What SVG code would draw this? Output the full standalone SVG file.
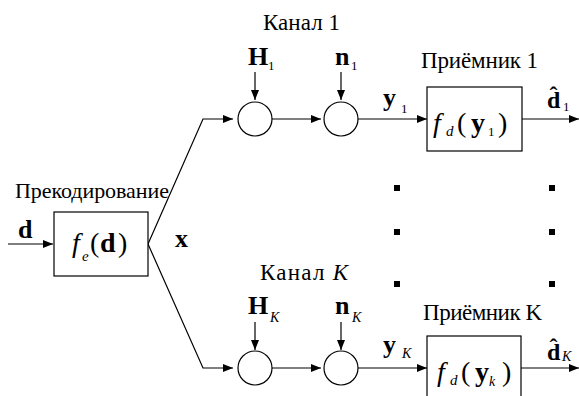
<svg xmlns="http://www.w3.org/2000/svg" width="579" height="396" viewBox="0 0 579 396">
<style>
text{font-family:"Liberation Serif","Times New Roman",serif;fill:#000}
.t{font-size:23px}
.m{font-size:28px}
.b{font-weight:bold}
.i{font-style:italic}
.lab{font-size:26px;font-weight:bold}
.s{font-size:13px}
.box{fill:#fff;stroke:#000;stroke-width:1.2}
.sum{fill:#fff;stroke:#000;stroke-width:1.2}
.c{fill:none;stroke:#000;stroke-width:1.2;marker-end:url(#ah)}
.dot{fill:#000}
</style>
<defs>
<marker id="ah" markerWidth="10" markerHeight="8" refX="10" refY="4" orient="auto" markerUnits="userSpaceOnUse">
<path d="M0,0 L10,4 L0,8 Z" fill="#000"/>
</marker>
</defs>
<g id="connectors">
<line class="c" x1="8" y1="244" x2="53" y2="244"/>
<polyline class="c" points="148,244 203,119 233,119"/>
<polyline class="c" points="148,244 203,368 233,368"/>
<line class="c" x1="272" y1="119" x2="321" y2="119"/>
<line class="c" x1="358" y1="119" x2="427" y2="119"/>
<line class="c" x1="522" y1="119" x2="579" y2="119"/>
<line class="c" x1="255" y1="72" x2="255" y2="100"/>
<line class="c" x1="341" y1="72" x2="341" y2="100"/>
<line class="c" x1="272" y1="368" x2="321" y2="368"/>
<line class="c" x1="358" y1="368" x2="427" y2="368"/>
<line class="c" x1="521" y1="368" x2="579" y2="368"/>
<line class="c" x1="255" y1="322" x2="255" y2="350"/>
<line class="c" x1="341" y1="322" x2="341" y2="350"/>
</g>
<g id="labels">
<text class="lab" x="18" y="238">d</text>
<text class="lab" x="175" y="247">x</text>
<text class="lab" x="383" y="106">y</text><text class="s" x="401" y="113">1</text>
<text class="lab" x="383" y="353">y</text><text class="s i" x="402" y="358" style="font-size:14px">K</text>
</g>
<g id="precoder">
<text class="t" x="15" y="198" style="font-size:22px" textLength="154">Прекодирование</text>
<rect class="box" x="54" y="212" width="94" height="64"/>
<text class="m i" x="72" y="252">f</text>
<text class="i" x="82" y="261" style="font-size:15px">e</text>
<text class="m" x="90" y="252">(</text>
<text class="m b" x="100" y="252">d</text>
<text class="m" x="118" y="252">)</text>
</g>
<g id="channel1">
<text class="t" x="263" y="30" textLength="77">Канал 1</text>
<text class="lab" x="248" y="65">H</text><text class="s" x="268" y="70">1</text>
<text class="lab" x="335" y="65">n</text><text class="s" x="351" y="70">1</text>
<circle class="sum" cx="255" cy="119" r="17"/>
<circle class="sum" cx="341" cy="119" r="17"/>
</g>
<g id="receiver1">
<text class="t" x="421" y="68" textLength="117">Приёмник 1</text>
<rect class="box" x="427" y="87" width="95" height="64"/>
<text class="m i" x="433" y="132">f</text>
<text class="i" x="446" y="136" style="font-size:15px">d</text>
<text class="m" x="457" y="132">(</text>
<text class="m b" x="471" y="132">y</text>
<text class="s" x="488" y="136">1</text>
<text class="m" x="498" y="132">)</text>
<text class="lab" x="547" y="108" style="font-size:24px">d̂</text>
<text class="s" x="563" y="111">1</text>
</g>
<g id="channelK">
<text class="t" x="260" y="280" textLength="88">Канал <tspan class="i">K</tspan></text>
<text class="lab" x="248" y="314">H</text><text class="s i" x="270" y="322" style="font-size:14px">K</text>
<text class="lab" x="335" y="314">n</text><text class="s i" x="352" y="322" style="font-size:14px">K</text>
<circle class="sum" cx="255" cy="368" r="17"/>
<circle class="sum" cx="341" cy="368" r="17"/>
</g>
<g id="receiverK">
<text class="t" x="423" y="320" textLength="119">Приёмник K</text>
<rect class="box" x="427" y="336" width="94" height="64"/>
<text class="m i" x="437" y="381">f</text>
<text class="i" x="450" y="385" style="font-size:15px">d</text>
<text class="m" x="461" y="381">(</text>
<text class="m b" x="475" y="381">y</text>
<text class="s i" x="489" y="386" style="font-size:14px">k</text>
<text class="m" x="502" y="381">)</text>
<text class="lab" x="547" y="360" style="font-size:24px">d̂</text>
<text class="s i" x="562" y="361" style="font-size:14px">K</text>
</g>
<g id="ellipsis">
<rect class="dot" x="394" y="185" width="6" height="6"/>
<rect class="dot" x="549" y="185" width="6" height="6"/>
<rect class="dot" x="394" y="229" width="6" height="6"/>
<rect class="dot" x="549" y="229" width="6" height="6"/>
<rect class="dot" x="394" y="281" width="6" height="6"/>
<rect class="dot" x="549" y="281" width="6" height="6"/>
</g>
</svg>
